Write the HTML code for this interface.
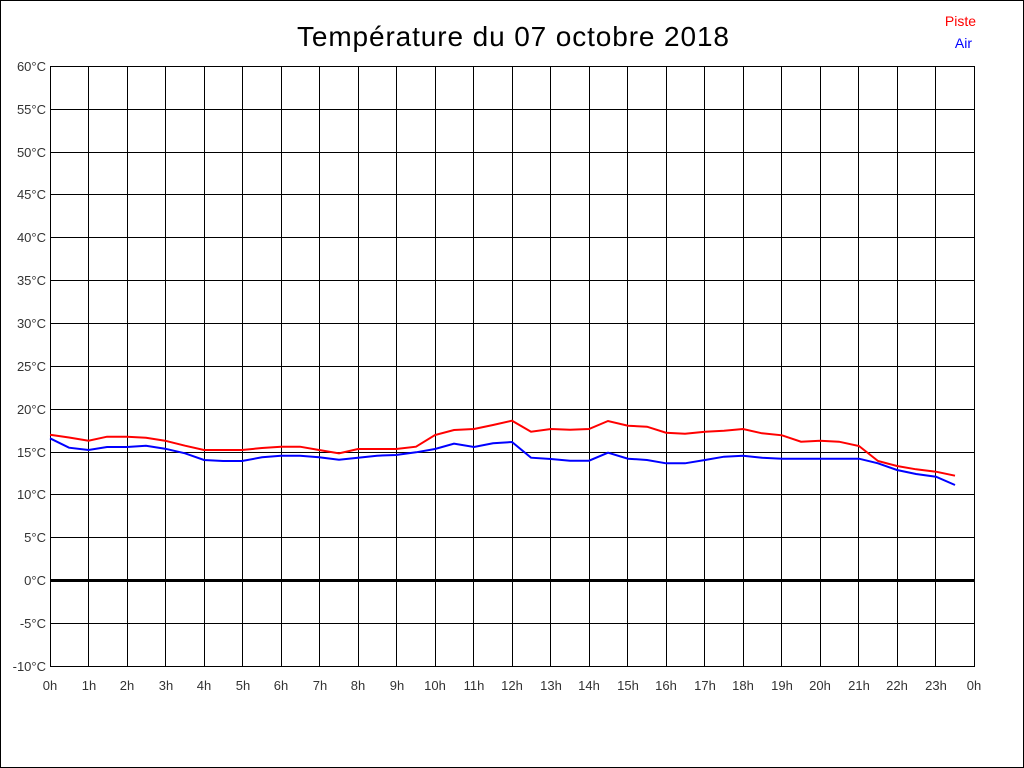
<!DOCTYPE html>
<html><head><meta charset="utf-8"><style>html,body{margin:0;padding:0;background:#fff}svg{display:block}</style></head><body>
<svg width="1024" height="768" xmlns="http://www.w3.org/2000/svg" font-family="Liberation Sans, sans-serif">
<rect x="0.5" y="0.5" width="1023" height="767" fill="#fff" stroke="#000"/>
<text x="513" y="46" font-size="28" text-anchor="middle" textLength="432" fill="#000">Température du 07 octobre 2018</text>
<text x="976" y="26" font-size="14" text-anchor="end" fill="#f00">Piste</text>
<text x="972" y="48" font-size="14" text-anchor="end" fill="#00f">Air</text>
<g stroke="#000" stroke-width="1" shape-rendering="crispEdges">
<rect x="50.5" y="66.5" width="924" height="600" fill="none"/>
<path d="M88.5 66V666M127.5 66V666M165.5 66V666M204.5 66V666M242.5 66V666M281.5 66V666M319.5 66V666M358.5 66V666M396.5 66V666M435.5 66V666M473.5 66V666M512.5 66V666M550.5 66V666M589.5 66V666M627.5 66V666M666.5 66V666M704.5 66V666M743.5 66V666M781.5 66V666M820.5 66V666M858.5 66V666M897.5 66V666M935.5 66V666"/>
<path d="M50 109.5H974M50 152.5H974M50 194.5H974M50 237.5H974M50 280.5H974M50 323.5H974M50 366.5H974M50 409.5H974M50 452.5H974M50 494.5H974M50 537.5H974M50 623.5H974"/>
</g>
<rect x="50" y="579" width="925" height="3" fill="#000"/>
<g font-size="13" fill="#333" text-anchor="end">
<text x="46" y="71">60°C</text><text x="46" y="114">55°C</text><text x="46" y="157">50°C</text><text x="46" y="199">45°C</text><text x="46" y="242">40°C</text><text x="46" y="285">35°C</text><text x="46" y="328">30°C</text><text x="46" y="371">25°C</text><text x="46" y="414">20°C</text><text x="46" y="457">15°C</text><text x="46" y="499">10°C</text><text x="46" y="542">5°C</text><text x="46" y="585">0°C</text><text x="46" y="628">-5°C</text><text x="46" y="671">-10°C</text>
</g>
<g font-size="13" fill="#333" text-anchor="middle">
<text x="50" y="690">0h</text><text x="89" y="690">1h</text><text x="127" y="690">2h</text><text x="166" y="690">3h</text><text x="204" y="690">4h</text><text x="243" y="690">5h</text><text x="281" y="690">6h</text><text x="320" y="690">7h</text><text x="358" y="690">8h</text><text x="397" y="690">9h</text><text x="435" y="690">10h</text><text x="474" y="690">11h</text><text x="512" y="690">12h</text><text x="551" y="690">13h</text><text x="589" y="690">14h</text><text x="628" y="690">15h</text><text x="666" y="690">16h</text><text x="705" y="690">17h</text><text x="743" y="690">18h</text><text x="782" y="690">19h</text><text x="820" y="690">20h</text><text x="859" y="690">21h</text><text x="897" y="690">22h</text><text x="936" y="690">23h</text><text x="974" y="690">0h</text>
</g>
<polyline fill="none" stroke="#f00" stroke-width="2" points="50,434.7 69,437.5 88.5,440.7 107,436.7 127,436.7 146,437.7 165,440.7 185,445.7 204,450 223,450 242,450 262,448 281,446.7 300,446.7 319,450 339,453.3 358,449 377,449 396,449 416,446.7 435,435 454,430 474,429 493,425 512,420.7 531,431.7 551,429 570,429.7 589,429 608,421 628,425.7 647,426.7 666,432.7 685,433.7 705,431.7 724,430.7 743,429 762,433.3 782,435.3 801,441.7 820,440.7 839,441.7 859,446 878,461 897,466 916,469.3 936,471.7 955,475.7"/>
<polyline fill="none" stroke="#00f" stroke-width="2" points="50,438.3 69,447.7 88.5,450 107,447 127,447 146,445.7 165,448.7 185,453.3 204,460 223,461 242,461 262,457.3 281,455.7 300,455.7 319,457.3 339,459.7 358,457.7 377,455.7 396,455 416,452.3 435,449 454,443.7 474,447 493,443.3 512,442 531,457.7 551,459 570,460.7 589,460.7 608,452.7 628,458.7 647,460 666,463.3 685,463.3 705,460 724,456.7 743,455.7 762,457.7 782,458.7 801,458.7 820,458.7 839,458.7 859,458.7 878,463.3 897,470 916,474 936,476.7 955,485"/>
</svg>
</body></html>
